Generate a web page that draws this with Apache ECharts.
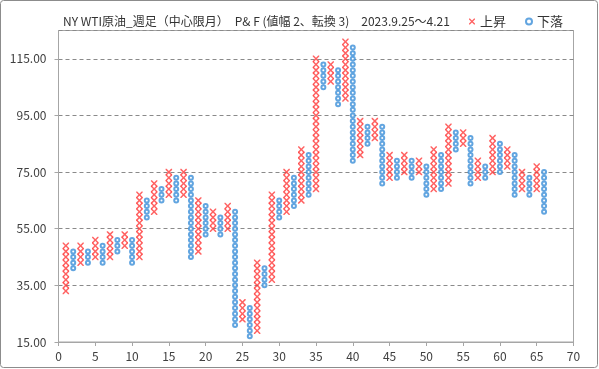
<!DOCTYPE html>
<html><head><meta charset="utf-8">
<script src="https://cdn.jsdelivr.net/npm/echarts@6/dist/echarts.min.js"></script>
<style>html,body{margin:0;padding:0;background:#fff}#c{width:599px;height:369px}</style>
</head><body><div id="c"></div>
<script>
// Point & Figure data (box size 2, reversal 3)
const boxSize = 2;
const xCols = [1,3,5,7,9,11,13,15,17,19,21,23,25,27,29,31,33,35,37,39,41,43,45,47,49,51,53,55,57,59,61,63,65];
const xLow  = [33,43,45,45,49,45,61,67,67,47,55,55,23,19,37,61,65,69,107,101,81,87,73,75,75,69,71,85,73,75,77,69,69];
const xHigh = [49,49,51,53,53,67,71,75,75,65,61,63,29,43,67,75,83,115,113,121,93,93,81,81,79,83,91,89,79,87,83,75,77];
const oCols = [2,4,6,8,10,12,14,16,18,20,22,24,26,28,30,32,34,36,38,40,42,44,46,48,50,52,54,56,58,60,62,64,66];
const oLow  = [41,43,43,47,43,59,65,65,45,53,53,21,17,35,59,63,67,105,99,79,85,71,73,73,67,69,83,71,73,75,67,67,61];
const oHigh = [47,47,49,51,51,65,69,73,73,63,59,61,27,41,65,73,81,113,111,119,91,91,79,79,77,81,89,87,77,85,81,73,75];
const xTicks = [0,5,10,15,20,25,30,35,40,45,50,55,60,65,70];
const yTicks = [15,35,55,75,95,115];
const titleText = 'NY WTI原油_週足（中心限月）　P& F (値幅 2、転換 3)　2023.9.25～4.21';

function boxes(cols, lo, hi) {
  const out = [];
  cols.forEach((c, i) => { for (let v = lo[i]; v <= hi[i]; v += boxSize) out.push([c, v]); });
  return out;
}
const X_PATH = 'path://M0,0 L1.6,0 L5,3.4 L8.4,0 L10,0 L10,1.6 L6.6,5 L10,8.4 L10,10 L8.4,10 L5,6.6 L1.6,10 L0,10 L0,8.4 L3.4,5 L0,1.6 Z';
const FONT = '"Noto Sans CJK JP", "Noto Sans", sans-serif';
const RED = '#ff3b3b', BLUE = '#3b8ed8';

const chart = echarts.init(document.getElementById('c'), null, {renderer: 'canvas'});
chart.setOption({
  animation: false,
  backgroundColor: '#fff',
  textStyle: {fontFamily: FONT},
  title: {text: titleText, left: 58, top: 10,
    textStyle: {fontSize: 12, fontWeight: 'normal', color: '#333', fontFamily: FONT}},
  legend: {left: 464, top: 10, itemWidth: 6, itemHeight: 6, itemGap: 19,
    textStyle: {fontSize: 13, color: '#333', fontFamily: FONT},
    data: [{name: '上昇', icon: X_PATH},
           {name: '下落', icon: 'emptyCircle'}]},
  graphic: [{type: 'rect', shape: {x: 0.5, y: 0.5, width: 597, height: 367, r: 3},
    style: {fill: null, stroke: '#8c8c8c', lineWidth: 1}, silent: true}],
  grid: {left: 58.5, right: 25.5, top: 30.5, bottom: 27, show: true, borderColor: '#a6a6a6', borderWidth: 1, containLabel: false},
  xAxis: {type: 'value', min: xTicks[0], max: xTicks[xTicks.length-1], interval: 5,
    axisLine: {show: true, lineStyle: {color: '#a6a6a6'}},
    axisTick: {show: true, length: 4, lineStyle: {color: '#a6a6a6'}},
    axisLabel: {color: '#404040', fontSize: 12, margin: 8, fontFamily: FONT},
    splitLine: {show: false}},
  yAxis: {type: 'value', min: yTicks[0], max: 125, interval: 20,
    axisLine: {show: true, lineStyle: {color: '#a6a6a6'}},
    axisTick: {show: true, length: 4, lineStyle: {color: '#a6a6a6'}},
    axisLabel: {color: '#404040', fontSize: 12, margin: 12, fontFamily: FONT, showMaxLabel: false,
      formatter: v => v.toFixed(2)},
    splitLine: {show: true, lineStyle: {color: '#8a8a8a', type: [4, 3], width: 1}}},
  series: [
    {name: '上昇', type: 'scatter', data: boxes(xCols, xLow, xHigh), symbol: X_PATH, symbolSize: [6.5, 6.5],
      itemStyle: {color: RED}},
    {name: '下落', type: 'scatter', data: boxes(oCols, oLow, oHigh), symbol: 'emptyCircle', symbolSize: 4,
      itemStyle: {color: BLUE, borderWidth: 1.2}}
  ]
});
</script></body></html>
